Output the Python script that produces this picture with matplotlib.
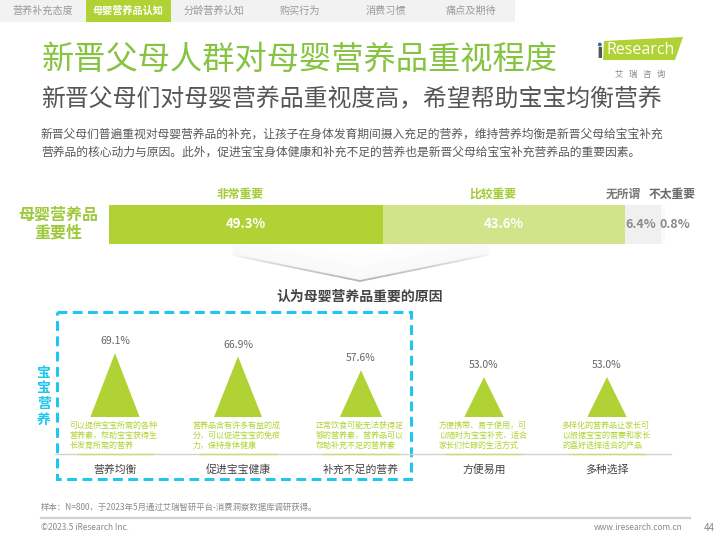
import numpy as np
import matplotlib.pyplot as plt
import matplotlib.transforms as mtransforms
from matplotlib.patches import Rectangle, Polygon, Circle

plt.rcParams['font.family'] = ['Noto Sans CJK SC', 'DejaVu Sans']

# 导航
tabs = ['营养补充态度', '母婴营养品认知', '分龄营养认知', '购买行为', '消费习惯', '痛点及期待']
active_tab = 1

# 母婴营养品重要性
levels = ['非常重要', '比较重要', '无所谓', '不太重要']
level_share = [49.3, 43.6, 6.4, 0.8]

# 认为母婴营养品重要的原因
reasons = ['营养均衡', '促进宝宝健康', '补充不足的营养', '方便易用', '多种选择']
reason_share = [69.1, 66.9, 57.6, 53.0, 53.0]
reason_notes = [
    '可以提供宝宝所需的各种\n营养素，帮助宝宝获得生\n长发育所需的营养',
    '营养品含有许多有益的成\n分，可以促进宝宝的免疫\n力，保持身体健康',
    '正常饮食可能无法获得足\n够的营养素，营养品可以\n帮助补充不足的营养素',
    '方便携带、易于使用，可\n以随时为宝宝补充，适合\n家长们忙碌的生活方式',
    '多样化的营养品让家长可\n以根据宝宝的需要和家长\n的喜好选择适合的产品',
]

title = '新晋父母人群对母婴营养品重视程度'
subtitle = '新晋父母们对母婴营养品重视度高，希望帮助宝宝均衡营养'
body = ('新晋父母们普遍重视对母婴营养品的补充，让孩子在身体发育期间摄入充足的营养，维持营养均衡是新晋父母给宝宝补充\n'
        '营养品的核心动力与原因。此外，促进宝宝身体健康和补充不足的营养也是新晋父母给宝宝补充营养品的重要因素。')
note = '样本：N=800，于2023年5月通过艾瑞智研平台-消费洞察数据库调研获得。'

GREEN = '#B1D235'
LIGHT = '#D2E48A'
TITLE_GREEN = '#86C341'
CYAN = '#1EC6F0'

W, H = 720, 540
fig = plt.figure(figsize=(7.2, 5.4), dpi=100)
bg = fig.add_axes([0, 0, 1, 1])
bg.set_xlim(0, W)
bg.set_ylim(H, 0)
bg.axis('off')

# tabs
bg.add_patch(Rectangle((0, 0), 515, 22, color='#F2F2F2', lw=0))
tab_x = [43, 128, 214, 300, 386, 471]
for i, (t, x) in enumerate(zip(tabs, tab_x)):
    if i == active_tab:
        bg.add_patch(Rectangle((86, 0), 85, 22, color=GREEN, lw=0))
        bg.text(x, 11, t, ha='center', va='center', fontsize=7.3, color='white', fontweight='bold')
    else:
        bg.text(x, 11, t, ha='center', va='center', fontsize=7.3, color='#9A9A9A')

# titles
bg.text(42, 60, title, fontsize=23.2, color=TITLE_GREEN, va='center')
bg.text(41, 100, subtitle, fontsize=17.2, color='#555555', va='center')
bg.text(41, 143, body, fontsize=8.5, color='#595959', va='center', linespacing=1.45)

# logo
bg.add_patch(Polygon([(604, 41), (683, 37), (675, 60), (603, 60)], color=GREEN, lw=0))
bg.text(599.5, 53, 'ı', fontsize=14, color='#555555', ha='center', va='center',
        family='DejaVu Sans', fontweight='bold')
bg.add_patch(Circle((599.8, 44.5), 1.9, color='#2A6BB5', lw=0))
bg.text(607, 50, 'Research', fontsize=11.5, color='white', va='center', family='Open Sans')
bg.text(640, 74, '艾   瑞   咨   询', fontsize=6, color='#888888', ha='center', va='center')

# importance bar
ax1 = fig.add_axes([109 / W, 1 - 244 / H, 556 / W, 39 / H])
bar_colors = [GREEN, LIGHT, '#F0F0F0', '#FAFAFA']
left = 0
for k, (lab, v) in enumerate(zip(levels, level_share)):
    ax1.barh(0, v, left=left, height=1, color=bar_colors[k], lw=0)
    c = left + v / 2
    if k < 2:
        ax1.text(c, 0, f'{v}%', ha='center', va='center', color='white', fontsize=9.5,
                 fontweight='bold')
    elif k == 2:
        ax1.annotate(f'{v}%', (c, 0), xytext=(-1.5, 0), textcoords='offset points',
                     ha='center', va='center', color='#8A8A8A', fontsize=9, fontweight='bold')
    else:
        ax1.annotate(f'{v}%', (c, 0), xytext=(9, 0), textcoords='offset points',
                     ha='center', va='center', color='#8A8A8A', fontsize=9, fontweight='bold')
    head_dx = [-4, -8, -14, 7][k]
    head_c = ['#A3CB35', '#A3CB35', '#7A7A7A', '#6A6A6A'][k]
    ax1.annotate(lab, (c, 0.5), xytext=(head_dx, 7.5), textcoords='offset points',
                 ha='center', va='center', color=head_c, fontsize=8.5, fontweight='bold')
    left += v
ax1.set_xlim(0, sum(level_share))
ax1.set_ylim(-0.5, 0.5)
ax1.axis('off')
bg.text(58, 224, '母婴营养品\n重要性', fontsize=11.5, color='#9DC83A', fontweight='bold',
        ha='center', va='center', linespacing=1.1)

# swoosh
xs = np.linspace(232, 488, 120)
vbot = 281 - 26 * np.abs(xs - 360) / 128
for k in range(9):
    bg.fill_between(xs, vbot - 3 * k - 3, vbot - 3 * k, color='#C8C8C8', alpha=0.11 * (9 - k) / 9, lw=0)
for k in range(len(xs) - 1):
    a = max(0.0, 1 - abs(xs[k] - 360) / 128) ** 0.7
    bg.plot(xs[k:k + 2], vbot[k:k + 2], color='#AFAFAF', lw=1.3, alpha=a, solid_capstyle='butt')
bg.text(360, 297, '认为母婴营养品重要的原因', fontsize=10, color='#444444', fontweight='bold',
        ha='center', va='center')

# reasons triangles
ax2 = fig.add_axes([53.5 / W, 1 - 417 / H, 615 / W, 87 / H])
ax2.set_xlim(-0.5, 4.5)
ax2.set_ylim(26.2, 84.6)
y0 = ax2.get_ylim()[0]
for i, v in enumerate(reason_share):
    hw = 0.16 + (v - 53) * 0.0025
    ax2.fill([i - hw, i, i + hw], [y0, v, y0], color=GREEN, lw=0)
    ax2.annotate(f'{v:.1f}%', (i, v), xytext=(0, 8.5), textcoords='offset points',
                 ha='center', va='center', fontsize=7.5, color='#666666')
    ax2.annotate(reason_notes[i], (i, y0), xytext=(-32.5, -3), textcoords='offset points',
                 ha='left', va='top', fontsize=5.8, color=GREEN, linespacing=1.15)
ax2.set_xticks(range(len(reasons)), reasons)
ax2.set_yticks([])
ax2.tick_params(axis='x', length=0, pad=34, labelsize=7.8, labelcolor='#444444')
ax2.set_frame_on(False)

# baseline under notes
bg.plot([55, 671], [454, 454], color='#D3D3D3', lw=1)
trans = mtransforms.blended_transform_factory(ax2.transData, bg.transData)
for i in range(len(reasons)):
    ax2.plot([i - 0.31, i + 0.31], [454, 454], color='#C9DF75', lw=1, transform=trans, clip_on=False)

# dashed box
bg.add_patch(Rectangle((57, 312), 354, 167, fill=False, ec=CYAN, lw=2.2, ls=(0, (3.2, 1.8))))
bg.text(44, 396, '宝\n宝\n营\n养', fontsize=10, color=CYAN, fontweight='bold',
        ha='center', va='center', linespacing=1.15)

# footer
bg.text(41, 507, note, fontsize=6, color='#8A8A8A', va='center')
bg.plot([41, 690], [518, 518], color='#D0D0D0', lw=1.6)
bg.text(41, 528, '©2023.5 iResearch Inc.', fontsize=6, color='#8A8A8A', va='center')
bg.text(683, 528, 'www.iresearch.com.cn', fontsize=6, color='#8A8A8A', va='center', ha='right')
bg.text(709, 528, '44', fontsize=7, color='#8A8A8A', va='center', ha='center')

fig.savefig('out.png', dpi=100)
